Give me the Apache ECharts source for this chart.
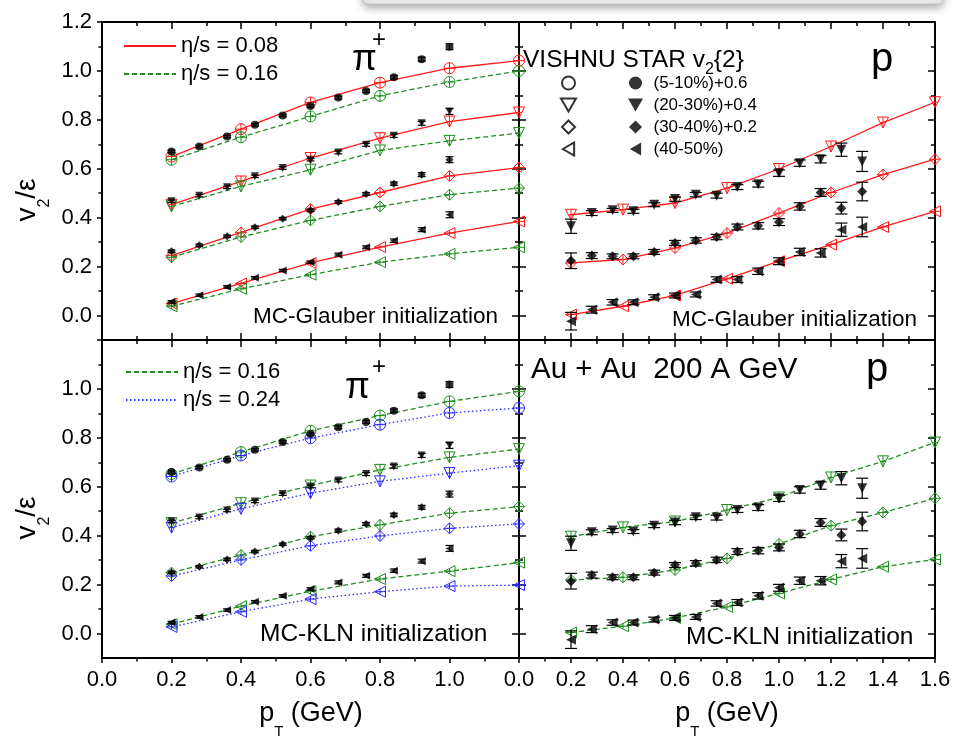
<!DOCTYPE html>
<html>
<head>
<meta charset="utf-8">
<title>v2/eps vs pT</title>
<script src="https://cdn.jsdelivr.net/npm/echarts@6.0.0/dist/echarts.min.js"></script>
<style>
  html, body { margin: 0; padding: 0; background: #fff; }
  #chart { width: 971px; height: 740px; }
</style>
</head>
<body>
<div id="chart"></div>
<script>
const FONT = '"Liberation Sans", Arial, Helvetica, sans-serif';
const RED = '#ff1a1a', GREEN = '#1f8f1f', BLUE = '#2b2bff';

// ---- pT values ----
const ptModelPi = [0.2, 0.4, 0.6, 0.8, 1.0, 1.2];
const ptModelP = [0.2, 0.4, 0.6, 0.8, 1.0, 1.2, 1.4, 1.6];
const ptDataPi = [0.2, 0.28, 0.36, 0.44, 0.52, 0.6, 0.68, 0.76, 0.84, 0.92, 1.0];
const ptDataP = [0.2, 0.28, 0.36, 0.44, 0.52, 0.6, 0.68, 0.76, 0.84, 0.92, 1.0, 1.08, 1.16, 1.24, 1.32];

// ---- ticks / labels ----
const xMajorPi = [0, 0.2, 0.4, 0.6, 0.8, 1.0, 1.2];
const xMinorPi = [0.1, 0.3, 0.5, 0.7, 0.9, 1.1];
const xLabelsPi = [0, 0.2, 0.4, 0.6, 0.8, 1.0];
const xMajorP = [0, 0.2, 0.4, 0.6, 0.8, 1.0, 1.2, 1.4, 1.6];
const xMinorP = [0.1, 0.3, 0.5, 0.7, 0.9, 1.1, 1.3, 1.5];
const xLabelsP = [0, 0.2, 0.4, 0.6, 0.8, 1.0, 1.2, 1.4, 1.6];
const yMajor = [0, 0.2, 0.4, 0.6, 0.8, 1.0, 1.2];
const yMinor = [0.1, 0.3, 0.5, 0.7, 0.9, 1.1];
const yLabelsTop = [0, 0.2, 0.4, 0.6, 0.8, 1.0, 1.2];
const yLabelsBottom = [0, 0.2, 0.4, 0.6, 0.8, 1.0];

// ---- MC-Glauber, pi+ : VISHNU eta/s = 0.08 ----
const gPiA_510 = [0.650, 0.762, 0.871, 0.952, 1.011, 1.042];
const gPiA_2030 = [0.453, 0.548, 0.644, 0.725, 0.793, 0.830];
const gPiA_3040 = [0.245, 0.340, 0.435, 0.503, 0.571, 0.605];
const gPiA_4050 = [0.049, 0.131, 0.215, 0.280, 0.337, 0.385];
// eta/s = 0.16
const gPiB_510 = [0.637, 0.729, 0.814, 0.898, 0.955, 1.000];
const gPiB_2030 = [0.446, 0.528, 0.596, 0.675, 0.714, 0.746];
const gPiB_3040 = [0.238, 0.321, 0.389, 0.446, 0.494, 0.521];
const gPiB_4050 = [0.038, 0.109, 0.167, 0.218, 0.252, 0.279];
// STAR v2{2}/eps (Glauber)
const sgPi_510 = [0.671, 0.691, 0.732, 0.780, 0.818, 0.857, 0.891, 0.918, 0.974, 1.048, 1.099];
const sgPi_2030 = [0.467, 0.490, 0.524, 0.569, 0.603, 0.637, 0.667, 0.698, 0.735, 0.786, 0.834];
const sgPi_3040 = [0.263, 0.287, 0.324, 0.361, 0.396, 0.430, 0.464, 0.497, 0.539, 0.576, 0.637];
const sgPi_4050 = [0.056, 0.083, 0.117, 0.154, 0.184, 0.218, 0.249, 0.279, 0.306, 0.351, 0.412];
const errPi = [0.005, 0.005, 0.005, 0.005, 0.005, 0.005, 0.006, 0.006, 0.007, 0.008, 0.012];

// ---- MC-Glauber, proton : eta/s = 0.08 ----
const gPA_2030 = [0.412, 0.433, 0.460, 0.521, 0.599, 0.691, 0.789, 0.872];
const gPA_3040 = [0.215, 0.229, 0.276, 0.337, 0.419, 0.503, 0.576, 0.639];
const gPA_4050 = [0.004, 0.038, 0.082, 0.150, 0.222, 0.290, 0.362, 0.426];
const sgP_2030 = [0.365, 0.419, 0.430, 0.426, 0.453, 0.476, 0.494, 0.490, 0.525, 0.537, 0.582, 0.623, 0.639, 0.678, 0.630];
const sgP_3040 = [0.224, 0.245, 0.242, 0.242, 0.260, 0.297, 0.307, 0.321, 0.362, 0.367, 0.382, 0.446, 0.503, 0.439, 0.507];
const sgP_4050 = [-0.023, 0.024, 0.054, 0.054, 0.075, 0.082, 0.086, 0.147, 0.147, 0.181, 0.222, 0.260, 0.256, 0.351, 0.362];
const errP_2030 = [0.029, 0.010, 0.008, 0.008, 0.008, 0.009, 0.009, 0.010, 0.010, 0.012, 0.013, 0.013, 0.015, 0.027, 0.041];
const errP_3040 = [0.032, 0.012, 0.010, 0.010, 0.010, 0.010, 0.011, 0.011, 0.012, 0.013, 0.014, 0.015, 0.016, 0.024, 0.038];
const errP_4050 = [0.036, 0.014, 0.011, 0.010, 0.010, 0.010, 0.010, 0.011, 0.012, 0.013, 0.014, 0.015, 0.017, 0.027, 0.040];

// ---- MC-KLN, pi+ : eta/s = 0.16 ----
const kPiB_510 = [0.652, 0.742, 0.829, 0.891, 0.949, 0.990];
const kPiB_2030 = [0.451, 0.533, 0.605, 0.669, 0.720, 0.754];
const kPiB_3040 = [0.249, 0.321, 0.396, 0.444, 0.492, 0.519];
const kPiB_4050 = [0.038, 0.112, 0.173, 0.223, 0.255, 0.290];
// eta/s = 0.24
const kPiC_510 = [0.642, 0.728, 0.799, 0.854, 0.902, 0.922];
const kPiC_2030 = [0.433, 0.510, 0.574, 0.622, 0.656, 0.686];
const kPiC_3040 = [0.235, 0.301, 0.359, 0.399, 0.430, 0.448];
const kPiC_4050 = [0.027, 0.089, 0.141, 0.171, 0.194, 0.198];
const skPi_510 = [0.660, 0.679, 0.710, 0.751, 0.783, 0.816, 0.843, 0.865, 0.911, 0.974, 1.018];
const skPi_2030 = [0.458, 0.474, 0.503, 0.540, 0.570, 0.601, 0.626, 0.652, 0.683, 0.728, 0.769];
const skPi_3040 = [0.250, 0.273, 0.303, 0.335, 0.365, 0.392, 0.421, 0.448, 0.485, 0.516, 0.570];
const skPi_4050 = [0.045, 0.068, 0.096, 0.130, 0.154, 0.182, 0.209, 0.236, 0.257, 0.296, 0.348];

// ---- MC-KLN, proton : eta/s = 0.16 ----
const kPB_2030 = [0.396, 0.434, 0.458, 0.505, 0.556, 0.638, 0.704, 0.781];
const kPB_3040 = [0.219, 0.230, 0.260, 0.307, 0.366, 0.441, 0.495, 0.553];
const kPB_4050 = [0.004, 0.030, 0.064, 0.109, 0.164, 0.221, 0.273, 0.303];
const skP_2030 = [0.369, 0.414, 0.421, 0.417, 0.441, 0.454, 0.475, 0.474, 0.505, 0.515, 0.553, 0.587, 0.605, 0.635, 0.594];
const skP_3040 = [0.214, 0.239, 0.230, 0.230, 0.249, 0.280, 0.287, 0.301, 0.335, 0.339, 0.352, 0.407, 0.454, 0.403, 0.458];
const skP_4050 = [-0.025, 0.018, 0.045, 0.045, 0.057, 0.064, 0.068, 0.123, 0.127, 0.154, 0.187, 0.216, 0.216, 0.296, 0.307];

const centNames = ['(5-10%)+0.6', '(20-30%)+0.4', '(30-40%)+0.2', '(40-50%)'];

// symbols: filled data / hollow model (with the cross of the model error bars)
const SYM_DATA = ['circle', 'path://M0,0L20,0L10,17.32Z', 'path://M10,0L20,10L10,20L0,10Z', 'path://M0,10L17.32,0L17.32,20Z'];
const SYM_MODEL = [
    'path://M20,10A10,10,0,1,1,0,10A10,10,0,1,1,20,10ZM10,0L10,20M0,10L20,10',
    'path://M0,0L20,0L10,17.32ZM10,0L10,17.32M5,8.66L15,8.66',
    'path://M10,0L20,10L10,20L0,10ZM10,0L10,20M0,10L20,10',
    'path://M0,10L17.32,0L17.32,20ZM8.66,5L8.66,15M0,10L17.32,10'
];

const chart = echarts.init(document.getElementById('chart'));

// one grid = 4 x axes + 4 y axes (major/minor ticks on both sides)
// first side (bottom/left) may have its ticks outside, the mirror side always inside
function axisSet(dim, grid, min, max, major, minor, labels, firstOutside) {
    const sides = dim === 'x' ? ['bottom', 'top'] : ['left', 'right'];
    const out = [];
    sides.forEach((pos, k) => {
        const outside = k === 0 && firstOutside;
        [major, minor].forEach((vals, m) => {
            const ax = {
                type: 'value', gridIndex: grid, position: pos, min: min, max: max,
                splitLine: { show: false },
                axisLine: { show: m === 0, onZero: false, lineStyle: { color: '#000', width: 2 } },
                axisTick: { show: true, inside: !outside,
                            length: outside ? (m === 0 ? 5 : 3.5) : (m === 0 ? 7 : 4),
                            customValues: vals, lineStyle: { color: '#000', width: 1.5 } },
                axisLabel: { show: false }
            };
            if (k === 0 && m === 0 && labels) {
                ax.axisLabel = { show: true, customValues: labels, formatter: v => v.toFixed(1),
                                 fontSize: 22, color: '#000', fontFamily: FONT, margin: dim === 'x' ? 11 : 10 };
            }
            out.push(ax);
        });
    });
    return out;
}

const xAxes = [].concat(
    axisSet('x', 0, 0, 1.2, xMajorPi, xMinorPi, null, false),
    axisSet('x', 1, 0, 1.6, xMajorP, xMinorP, null, false),
    axisSet('x', 2, 0, 1.2, xMajorPi, xMinorPi, xLabelsPi, true),
    axisSet('x', 3, 0, 1.6, xMajorP, xMinorP, xLabelsP, true)
);
const yAxes = [].concat(
    axisSet('y', 0, -0.1, 1.2, yMajor, yMinor, yLabelsTop, true),
    axisSet('y', 1, -0.1, 1.2, yMajor, yMinor, null, false),
    axisSet('y', 2, -0.1, 1.2, yMajor, yMinor, yLabelsBottom, true),
    axisSet('y', 3, -0.1, 1.2, yMajor, yMinor, null, false)
);

function model(g, xs, ys, color, lineType, c) {
    return {
        name: 'model-' + g + '-' + color + '-' + c, type: 'line',
        xAxisIndex: g * 4, yAxisIndex: g * 4,
        data: xs.map((x, i) => [x, ys[i]]),
        symbol: SYM_MODEL[c], symbolSize: 11, showAllSymbol: true,
        lineStyle: { color: color, width: 1.3, type: lineType },
        itemStyle: { color: 'rgba(255,255,255,0)', borderColor: color, borderWidth: 1 },
        z: 2, silent: true
    };
}
function star(g, xs, ys, c, size) {
    return {
        name: centNames[c], type: 'scatter',
        xAxisIndex: g * 4, yAxisIndex: g * 4,
        data: xs.map((x, i) => [x, ys[i]]),
        symbol: SYM_DATA[c], symbolSize: size,
        itemStyle: { color: '#000' }, z: 4, silent: true
    };
}
function bars(g, xs, ys, es, cap) {
    return {
        type: 'custom', xAxisIndex: g * 4, yAxisIndex: g * 4,
        data: xs.map((x, i) => [x, ys[i], es[i]]),
        encode: { x: 0, y: 1 }, z: 3, silent: true,
        renderItem: function (params, api) {
            const x = api.value(0), y = api.value(1), e = api.value(2);
            const hi = api.coord([x, y + e]);
            const lo = api.coord([x, y - e]);
            const st = { stroke: '#000', lineWidth: 1.2 };
            return {
                type: 'group',
                children: [
                    { type: 'line', shape: { x1: hi[0], y1: hi[1], x2: lo[0], y2: lo[1] }, style: st },
                    { type: 'line', shape: { x1: hi[0] - cap, y1: hi[1], x2: hi[0] + cap, y2: hi[1] }, style: st },
                    { type: 'line', shape: { x1: lo[0] - cap, y1: lo[1], x2: lo[0] + cap, y2: lo[1] }, style: st }
                ]
            };
        }
    };
}

const DASH = [5, 3];
const DOT = [1.5, 2.5];
const series = [];

// panel 0: MC-Glauber pi+
[gPiA_510, gPiA_2030, gPiA_3040, gPiA_4050].forEach((ys, c) => series.push(model(0, ptModelPi, ys, RED, 'solid', c)));
[gPiB_510, gPiB_2030, gPiB_3040, gPiB_4050].forEach((ys, c) => series.push(model(0, ptModelPi, ys, GREEN, DASH, c)));
[sgPi_510, sgPi_2030, sgPi_3040, sgPi_4050].forEach((ys, c) => {
    series.push(bars(0, ptDataPi, ys, errPi, 4));
    series.push(star(0, ptDataPi, ys, c, 8));
});

// panel 1: MC-Glauber proton
[gPA_2030, gPA_3040, gPA_4050].forEach((ys, i) => series.push(model(1, ptModelP, ys, RED, 'solid', i + 1)));
[[sgP_2030, errP_2030], [sgP_3040, errP_3040], [sgP_4050, errP_4050]].forEach((d, i) => {
    series.push(bars(1, ptDataP, d[0], d[1], 6));
    series.push(star(1, ptDataP, d[0], i + 1, 10));
});

// panel 2: MC-KLN pi+
[kPiB_510, kPiB_2030, kPiB_3040, kPiB_4050].forEach((ys, c) => series.push(model(2, ptModelPi, ys, GREEN, DASH, c)));
[kPiC_510, kPiC_2030, kPiC_3040, kPiC_4050].forEach((ys, c) => series.push(model(2, ptModelPi, ys, BLUE, DOT, c)));
[skPi_510, skPi_2030, skPi_3040, skPi_4050].forEach((ys, c) => {
    series.push(bars(2, ptDataPi, ys, errPi, 4));
    series.push(star(2, ptDataPi, ys, c, 8));
});

// panel 3: MC-KLN proton
[kPB_2030, kPB_3040, kPB_4050].forEach((ys, i) => series.push(model(3, ptModelP, ys, GREEN, DASH, i + 1)));
[[skP_2030, errP_2030], [skP_3040, errP_3040], [skP_4050, errP_4050]].forEach((d, i) => {
    series.push(bars(3, ptDataP, d[0], d[1], 6));
    series.push(star(3, ptDataP, d[0], i + 1, 10));
});

// legend-only series
const etaLegend = [
    { name: 'η/s = 0.08', color: RED, type: 'solid', width: 1.3 },
    { name: 'η/s = 0.16', color: GREEN, type: DASH, width: 1.3 },
    { name: 'η/s = 0.24', color: BLUE, type: DOT, width: 1.5 }
];
etaLegend.forEach(l => series.push({
    name: l.name, type: 'line', data: [], symbol: 'none', xAxisIndex: 0, yAxisIndex: 0,
    lineStyle: { color: l.color, type: l.type, width: l.width },
    itemStyle: { color: 'rgba(0,0,0,0)' }
}));
const hollowNames = ['VISHNU 5-10', 'VISHNU 20-30', 'VISHNU 30-40', 'VISHNU 40-50'];
hollowNames.forEach((n, c) => series.push({
    name: n, type: 'scatter', data: [], symbol: SYM_DATA[c], xAxisIndex: 0, yAxisIndex: 0,
    itemStyle: { color: 'rgba(255,255,255,0)', borderColor: '#000', borderWidth: 1.2 }
}));

const legendText = { fontFamily: FONT, fontSize: 22, lineHeight: 24, color: '#000' };
const smallText = { fontFamily: FONT, fontSize: 17, lineHeight: 20, color: '#000' };

const txt = (x, y, text, size, extra) => Object.assign({
    type: 'text', x: x, y: y,
    style: { text: text, fontFamily: FONT, fontSize: size, fill: '#000', align: 'left', verticalAlign: 'middle' }
}, extra || {});

// rich text with a subscript; the main text stays centred on the anchor
function subText(x, y, text, big, small, drop, align, rotation) {
    return {
        type: 'text', x: x, y: y, rotation: rotation || 0,
        style: {
            text: text, fontFamily: FONT, fontSize: big, fill: '#000', align: align, verticalAlign: 'middle',
            rich: {
                a: { fontSize: big, lineHeight: big, verticalAlign: 'middle', fontFamily: FONT, fill: '#000' },
                s: { fontSize: small, verticalAlign: 'bottom', padding: [drop, 0, 0, 0], fontFamily: FONT, fill: '#000' }
            }
        }
    };
}

const option = {
    animation: false,
    backgroundColor: '#fff',
    textStyle: { fontFamily: FONT },
    grid: [
        { left: 102, top: 22, width: 417, height: 318, containLabel: false, outerBoundsMode: 'none' },
        { left: 519, top: 22, width: 416, height: 318, containLabel: false, outerBoundsMode: 'none' },
        { left: 102, top: 340, width: 417, height: 318, containLabel: false, outerBoundsMode: 'none' },
        { left: 519, top: 340, width: 416, height: 318, containLabel: false, outerBoundsMode: 'none' }
    ],
    xAxis: xAxes,
    yAxis: yAxes,
    legend: [
        { data: ['η/s = 0.08', 'η/s = 0.16'], left: 123, top: 34, orient: 'vertical', padding: 0,
          itemWidth: 52, itemHeight: 14, itemGap: 4, selectedMode: false, textStyle: legendText },
        { data: ['η/s = 0.16', 'η/s = 0.24'], left: 125, top: 360, orient: 'vertical', padding: 0,
          itemWidth: 52, itemHeight: 14, itemGap: 4, selectedMode: false, textStyle: legendText },
        { data: hollowNames, left: 560, top: 73, orient: 'vertical', padding: 0, formatter: () => ' ',
          itemWidth: 26, itemHeight: 13, itemGap: 2, selectedMode: false, textStyle: smallText },
        { data: centNames, left: 628, top: 73, orient: 'vertical', padding: 0,
          itemWidth: 26, itemHeight: 13, itemGap: 2, selectedMode: false, textStyle: smallText }
    ],
    graphic: [
        { type: 'rect', shape: { x: 363, y: -30, width: 580, height: 34, r: 5 }, z: 10,
          style: { fill: '#ececec', stroke: '#c4c4c4', lineWidth: 1, shadowBlur: 8,
                   shadowColor: 'rgba(0,0,0,0.35)', shadowOffsetY: 3 } },
        subText(27.5, 200, '{a|v}{s|2}{a|/ε}', 28, 16, 34, 'center', Math.PI / 2),
        subText(27.5, 518, '{a|v}{s|2}{a|/ε}', 28, 16, 34, 'center', Math.PI / 2),
        subText(311, 714, '{a|p}{s|T}{a| (GeV)}', 27, 15, 36, 'center'),
        subText(727, 714, '{a|p}{s|T}{a| (GeV)}', 27, 15, 36, 'center'),
        subText(523, 60, '{a|VISHNU STAR v}{s|2}{a|\u007B2\u007D}', 24.5, 16, 20, 'left'),
        txt(352, 60, 'π', 36), txt(372, 40, '+', 24),
        txt(345, 388, 'π', 36), txt(372, 367, '+', 24),
        txt(871, 60, 'p', 40),
        txt(866, 370, 'p', 40),
        txt(253, 317, 'MC-Glauber initialization', 22.5),
        txt(672, 320, 'MC-Glauber initialization', 22.5),
        txt(260, 634, 'MC-KLN initialization', 24.5),
        txt(686, 637, 'MC-KLN initialization', 24.5),
        txt(531, 370, 'Au + Au  200 A GeV', 29.5)
    ],
    series: series
};

chart.setOption(option);
</script>
</body>
</html>
